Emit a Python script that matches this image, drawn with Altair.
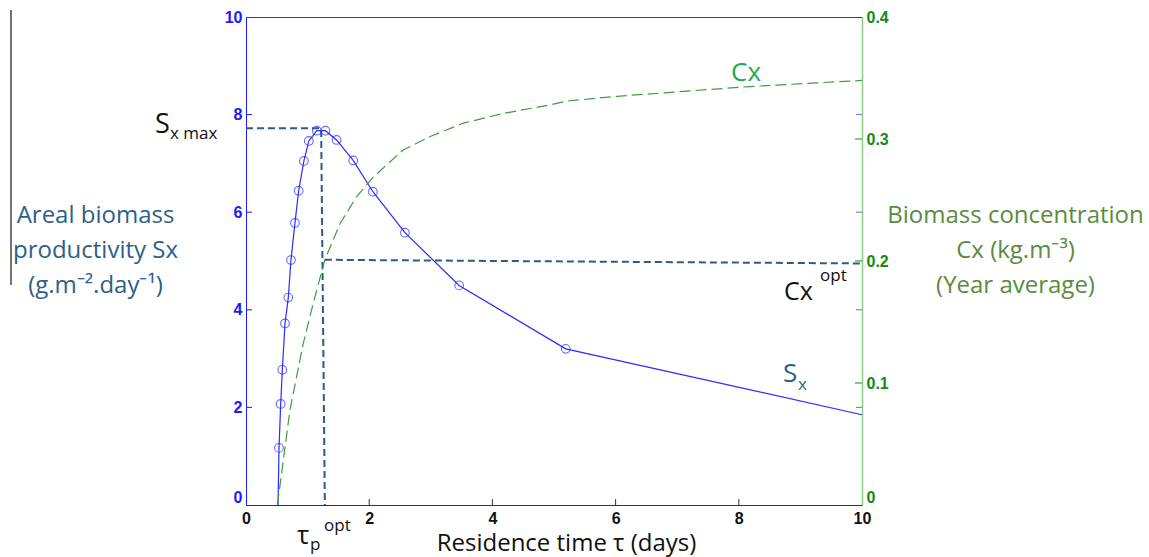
import altair as alt
import pandas as pd

# ---------------- data ----------------
# Areal biomass productivity Sx (g.m-2.day-1) vs residence time (days)
sx_tau = [0.52, 0.536, 0.563, 0.59, 0.633, 0.687, 0.73, 0.795, 0.855, 0.94, 1.02,
          1.15, 1.29, 1.47, 1.74, 2.06, 2.58, 3.46, 5.19, 10.0]
sx_val = [0.0, 1.17, 2.07, 2.77, 3.72, 4.25, 5.02, 5.78, 6.44, 7.05, 7.46,
          7.67, 7.67, 7.48, 7.06, 6.42, 5.58, 4.50, 3.20, 1.85]
sx_marked = [False] + [True] * 18 + [False]

# Biomass concentration Cx (kg.m-3) vs residence time (days)
cx_tau = [0.51, 0.714, 0.93, 1.09, 1.28, 1.53, 1.80, 2.07, 2.55, 2.99, 3.53,
          4.18, 4.94, 5.2, 6.02, 7.1, 8.18, 9.26, 10.0]
cx_val = [0.0, 0.078, 0.1325, 0.165, 0.201, 0.231, 0.253, 0.269, 0.291, 0.302, 0.313,
          0.321, 0.328, 0.331, 0.335, 0.339, 0.343, 0.346, 0.348]

# optimum guide lines
sxmax_tau = [0.0, 1.22, 1.28]
sxmax_val = [7.72, 7.72, 0.0]
cxopt_tau = [1.28, 10.0]
cxopt_val = [0.201, 0.198]

x_ticks = [0, 2, 4, 6, 8, 10]
sx_ticks = [0, 2, 4, 6, 8, 10]
cx_ticks = [0, 0.1, 0.2, 0.3, 0.4]

left_title = ["Areal biomass", "productivity Sx", "(g.m\u207b\u00b2.day\u207b\u00b9)"]
right_title = ["Biomass concentration", "Cx (kg.m\u207b\u00b3)", "(Year average)"]
x_title = "Residence time \u03c4 (days)"

# ---------------- styles ----------------
W, H = 616, 488
BLUE = "#2b2bff"
AXBLUE = "#1a1aff"
GREEN_LINE = "#3c9e3c"
GREEN_AX = "#8ccc8c"
GREEN_LBL = "#138a13"
GUIDE = "#2f5b82"
TITLE_BLUE = "#2e5f8a"
TITLE_GREEN = "#5a8c3e"
TFONT = "Open Sans"
LFONT = "Liberation Sans"
LBL_SIZE = 16

xs = alt.Scale(domain=[0, 10], nice=False, zero=False)
sxs = alt.Scale(domain=[0, 10], nice=False, zero=False)
cxs = alt.Scale(domain=[0, 0.4], nice=False, zero=False)

sx_df = pd.DataFrame({"tau": sx_tau, "sx": sx_val, "m": sx_marked})
cx_df = pd.DataFrame({"tau": cx_tau, "cx": cx_val})
g1 = pd.DataFrame({"tau": sxmax_tau, "sx": sxmax_val, "o": list(range(len(sxmax_tau)))})
g2 = pd.DataFrame({"tau": cxopt_tau, "cx": cxopt_val})

zero_base = {"condition": {"test": "datum.value == 0", "value": "bottom"}, "value": "middle"}

x_axis = alt.Axis(values=x_ticks, ticks=False, grid=False, domainColor="#333333",
                  labelColor="#111111", labelFont=LFONT, labelFontWeight="bold",
                  labelFontSize=LBL_SIZE, labelPadding=5, labelFlush=False, format="d",
                  title=x_title, titleFont=TFONT, titleFontSize=24,
                  titleFontWeight="normal", titleColor="#111111",
                  titleX=320, titleY=45, titleBaseline="alphabetic", titleAlign="center")

left_axis = alt.Axis(values=sx_ticks, ticks=False, grid=False, domainColor=AXBLUE,
                     labelColor=AXBLUE, labelFont=LFONT, labelFontWeight="bold",
                     labelFontSize=LBL_SIZE, labelPadding=4, format="d",
                     labelBaseline=zero_base,
                     title=left_title, titleFont=TFONT, titleFontSize=24,
                     titleFontWeight="normal", titleColor=TITLE_BLUE, titleAngle=0,
                     titleAlign="center", titleBaseline="middle", titleX=-151,
                     titleY=198, titleLineHeight=35)

right_axis = alt.Axis(values=cx_ticks, orient="right", ticks=False, grid=False,
                      domainColor=GREEN_AX, domainWidth=1.5,
                      labelColor=GREEN_LBL, labelFont=LFONT, labelFontWeight="bold",
                      labelFontSize=LBL_SIZE, labelPadding=4, format="~g",
                      labelBaseline=zero_base,
                      title=right_title, titleFont=TFONT, titleFontSize=24,
                      titleFontWeight="normal", titleColor=TITLE_GREEN, titleAngle=0,
                      titleAlign="center", titleBaseline="middle", titleX=153,
                      titleY=198, titleLineHeight=35)

X = lambda f: alt.X(f, scale=xs, axis=x_axis)
YS = lambda f: alt.Y(f, scale=sxs, axis=left_axis)
YC = lambda f: alt.Y(f, scale=cxs, axis=right_axis)

# ---------------- Sx group ----------------
sx_line = alt.Chart(sx_df).mark_line(color=BLUE, strokeWidth=1.2).encode(
    x=X("tau:Q"), y=YS("sx:Q"))
sx_pts = alt.Chart(sx_df).transform_filter("datum.m").mark_point(
    shape="circle", filled=False, color=BLUE, size=75, strokeWidth=1.1
).encode(x=X("tau:Q"), y=YS("sx:Q"))
guide1 = alt.Chart(g1).mark_line(color=GUIDE, strokeWidth=2, strokeDash=[7, 4]).encode(
    x=X("tau:Q"), y=YS("sx:Q"), order="o:Q")
inner_ticks = [v for v in sx_ticks if 0 < v < 10]
tick_df = pd.DataFrame({"sx": inner_ticks})
left_ticks = alt.Chart(tick_df).mark_rule(color=AXBLUE, strokeWidth=1).encode(
    y=YS("sx:Q"), x=alt.value(0), x2=alt.value(6))
right_blue_ticks = alt.Chart(tick_df).mark_rule(color="#6a6aff", strokeWidth=1).encode(
    y=YS("sx:Q"), x=alt.value(W - 6), x2=alt.value(W))
bottom_ticks = alt.Chart(pd.DataFrame({"tau": [v for v in x_ticks if 0 < v < 10]})).mark_rule(
    color="#333333", strokeWidth=1).encode(
    x=X("tau:Q"), y=alt.value(H), y2=alt.value(H - 6))

def label(txt, x, y, size, color="#111111", align="left", baseline="alphabetic"):
    return alt.Chart(pd.DataFrame({"t": [txt]})).mark_text(
        font=TFONT, fontSize=size, color=color, align=align, baseline=baseline
    ).encode(x=alt.value(x), y=alt.value(y), text="t:N")

ox, oy = 246, 17
texts = [
    label("S", 155 - ox, 133 - oy, 27),
    label("x max", 170 - ox, 139 - oy, 17),
    label("Cx", 731 - ox, 81 - oy, 26, color="#1faa4f"),
    label("Cx", 784 - ox, 300 - oy, 25),
    label("opt", 820 - ox, 281 - oy, 17),
    label("S", 783 - ox, 382 - oy, 26, color=TITLE_BLUE),
    label("x", 798 - ox, 390 - oy, 17, color=TITLE_BLUE),
    label("\u03c4", 297 - ox, 544 - oy, 26),
    label("p", 310 - ox, 550 - oy, 17),
    label("opt", 324 - ox, 531 - oy, 17),
]

artifact = alt.Chart(pd.DataFrame({"a": [0]})).mark_rule(color="#444444", strokeWidth=1.5).encode(
    x=alt.value(11 - ox), y=alt.value(10 - oy), y2=alt.value(285 - oy))

sx_group = alt.layer(sx_line, guide1, sx_pts, left_ticks, right_blue_ticks,
                     bottom_ticks, artifact, *texts)

# ---------------- Cx group ----------------
cx_line = alt.Chart(cx_df).mark_line(color=GREEN_LINE, strokeWidth=1.2,
                                     strokeDash=[11, 5]).encode(
    x=X("tau:Q"), y=YC("cx:Q"))
guide2 = alt.Chart(g2).mark_line(color=GUIDE, strokeWidth=2, strokeDash=[7, 4]).encode(
    x=X("tau:Q"), y=YC("cx:Q"))
green_ticks = alt.Chart(pd.DataFrame({"cx": [v for v in cx_ticks if 0 < v < 0.4]})).mark_rule(
    color=GREEN_LBL, strokeWidth=1).encode(
    y=YC("cx:Q"), x=alt.value(W - 7), x2=alt.value(W))

cx_group = alt.layer(cx_line, guide2, green_ticks)

chart = alt.layer(sx_group, cx_group).resolve_scale(y="independent").properties(
    width=W, height=H,
    padding={"left": ox, "top": oy, "right": 1149 - ox - W, "bottom": 557 - oy - H},
    autosize=alt.AutoSizeParams(type="none"),
    background="white",
).configure_view(stroke="#444444", strokeWidth=1)

chart.save("out.html", embed_options={"renderer": "svg", "actions": False})
